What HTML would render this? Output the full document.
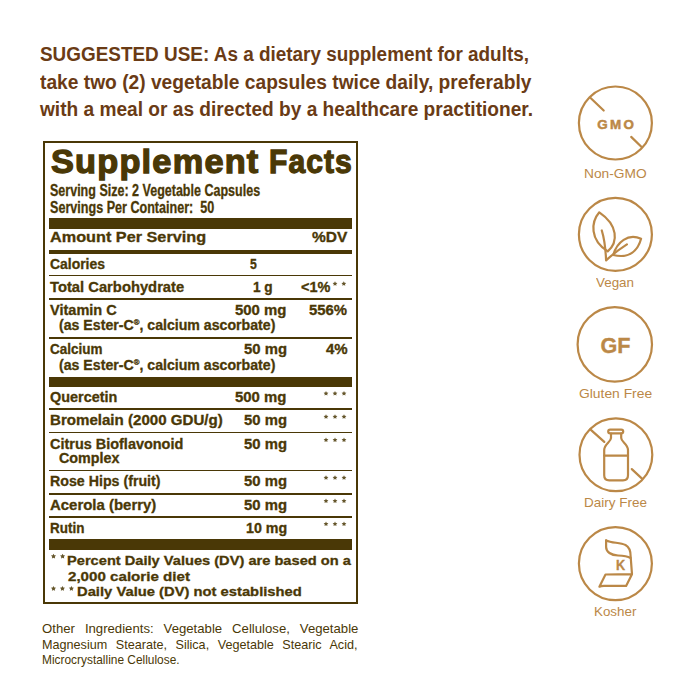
<!DOCTYPE html>
<html><head><meta charset="utf-8"><style>
html,body{margin:0;padding:0;background:#fff;width:700px;height:700px;overflow:hidden;}
body{position:relative;font-family:"Liberation Sans",sans-serif;}
.t{position:absolute;white-space:nowrap;line-height:1;transform-origin:0 0;}
.t sup{font-size:0.55em;vertical-align:0;position:relative;top:-0.62em;}
.r{position:absolute;}
.m{display:inline-block;width:0;height:0;}
.st{position:absolute;line-height:1;font-family:"Liberation Sans",sans-serif;font-weight:700;}
svg{position:absolute;left:0;top:0;}
</style></head><body>
<div class="t" id="t0" style="left:40.00px;top:45.02px;font-size:19.5px;font-weight:700;color:#6a3b15;transform:scaleX(0.9698);word-spacing:0.00px;letter-spacing:0px;-webkit-text-stroke:0px #6a3b15">SUGGESTED USE: As a dietary supplement for adults,<span class="m"></span></div><div class="t" id="t1" style="left:40.00px;top:73.01px;font-size:19.5px;font-weight:700;color:#6a3b15;transform:scaleX(0.9843);word-spacing:0.00px;letter-spacing:0px;-webkit-text-stroke:0px #6a3b15">take two (2) vegetable capsules twice daily, preferably<span class="m"></span></div><div class="t" id="t2" style="left:40.00px;top:100.01px;font-size:19.5px;font-weight:700;color:#6a3b15;transform:scaleX(0.9804);word-spacing:0.00px;letter-spacing:0px;-webkit-text-stroke:0px #6a3b15">with a meal or as directed by a healthcare practitioner.<span class="m"></span></div><div class="t" id="t3" style="left:51.00px;top:144.01px;font-size:34px;font-weight:700;color:#4a3806;transform:scaleX(1.0093);word-spacing:0.00px;letter-spacing:1.2px;-webkit-text-stroke:1.3px #4a3806">Supplement<span class="m"></span></div><div class="t" id="t4" style="left:268.60px;top:144.01px;font-size:34px;font-weight:700;color:#4a3806;transform:scaleX(0.8848);word-spacing:0.00px;letter-spacing:1.2px;-webkit-text-stroke:1.3px #4a3806">Facts<span class="m"></span></div><div class="t" id="t5" style="left:49.70px;top:183.01px;font-size:16px;font-weight:700;color:#4a3806;transform:scaleX(0.7823);word-spacing:0.00px;letter-spacing:0px;-webkit-text-stroke:0.3px #4a3806">Serving Size: 2 Vegetable Capsules<span class="m"></span></div><div class="t" id="t6" style="left:49.70px;top:200.01px;font-size:16px;font-weight:700;color:#4a3806;transform:scaleX(0.7862);word-spacing:0.00px;letter-spacing:0px;-webkit-text-stroke:0.3px #4a3806">Servings Per Container:&nbsp; 50<span class="m"></span></div><div class="t" id="t7" style="left:49.60px;top:231.02px;font-size:13.8px;font-weight:700;color:#4a3806;transform:scaleX(1.1769);word-spacing:0.00px;letter-spacing:0px;-webkit-text-stroke:0.3px #4a3806">Amount Per Serving<span class="m"></span></div><div class="t" id="t8" style="left:312.10px;top:231.02px;font-size:13.8px;font-weight:700;color:#4a3806;transform:scaleX(1.1229);word-spacing:0.00px;letter-spacing:0px;-webkit-text-stroke:0.3px #4a3806">%DV<span class="m"></span></div><div class="t" id="t9" style="left:49.70px;top:258.02px;font-size:13.8px;font-weight:700;color:#4a3806;transform:scaleX(1.0100);word-spacing:0.00px;letter-spacing:0px;-webkit-text-stroke:0.3px #4a3806">Calories<span class="m"></span></div><div class="t" id="t10" style="left:250.30px;top:258.02px;font-size:13.8px;font-weight:700;color:#4a3806;transform:scaleX(0.8846);word-spacing:0.00px;letter-spacing:0px;-webkit-text-stroke:0.3px #4a3806">5<span class="m"></span></div><div class="t" id="t11" style="left:49.70px;top:281.02px;font-size:13.8px;font-weight:700;color:#4a3806;transform:scaleX(1.0696);word-spacing:0.00px;letter-spacing:0px;-webkit-text-stroke:0.3px #4a3806">Total Carbohydrate<span class="m"></span></div><div class="t" id="t12" style="left:252.60px;top:281.02px;font-size:13.8px;font-weight:700;color:#4a3806;transform:scaleX(0.9881);word-spacing:0.00px;letter-spacing:0px;-webkit-text-stroke:0.3px #4a3806">1 g<span class="m"></span></div><div class="t" id="t13" style="left:300.70px;top:281.02px;font-size:13.8px;font-weight:700;color:#4a3806;transform:scaleX(1.0464);word-spacing:0.00px;letter-spacing:0px;-webkit-text-stroke:0.3px #4a3806">&lt;1%<span class="m"></span></div><div class="t" id="t14" style="left:49.70px;top:304.02px;font-size:13.8px;font-weight:700;color:#4a3806;transform:scaleX(1.0538);word-spacing:0.00px;letter-spacing:0px;-webkit-text-stroke:0.3px #4a3806">Vitamin C<span class="m"></span></div><div class="t" id="t15" style="left:235.40px;top:304.02px;font-size:13.8px;font-weight:700;color:#4a3806;transform:scaleX(1.0828);word-spacing:0.00px;letter-spacing:0px;-webkit-text-stroke:0.3px #4a3806">500 mg<span class="m"></span></div><div class="t" id="t16" style="left:309.30px;top:304.02px;font-size:13.8px;font-weight:700;color:#4a3806;transform:scaleX(1.0794);word-spacing:0.00px;letter-spacing:0px;-webkit-text-stroke:0.3px #4a3806">556%<span class="m"></span></div><div class="t" id="t17" style="left:58.60px;top:319.02px;font-size:13.8px;font-weight:700;color:#4a3806;transform:scaleX(1.0250);word-spacing:0.00px;letter-spacing:0px;-webkit-text-stroke:0.3px #4a3806">(as Ester-C<sup>®</sup>, calcium ascorbate)<span class="m"></span></div><div class="t" id="t18" style="left:49.70px;top:343.02px;font-size:13.8px;font-weight:700;color:#4a3806;transform:scaleX(0.9763);word-spacing:0.00px;letter-spacing:0px;-webkit-text-stroke:0.3px #4a3806">Calcium<span class="m"></span></div><div class="t" id="t19" style="left:243.90px;top:343.02px;font-size:13.8px;font-weight:700;color:#4a3806;transform:scaleX(1.0784);word-spacing:0.00px;letter-spacing:0px;-webkit-text-stroke:0.3px #4a3806">50 mg<span class="m"></span></div><div class="t" id="t20" style="left:326.20px;top:343.02px;font-size:13.8px;font-weight:700;color:#4a3806;transform:scaleX(1.0875);word-spacing:0.00px;letter-spacing:0px;-webkit-text-stroke:0.3px #4a3806">4%<span class="m"></span></div><div class="t" id="t21" style="left:58.60px;top:359.02px;font-size:13.8px;font-weight:700;color:#4a3806;transform:scaleX(1.0250);word-spacing:0.00px;letter-spacing:0px;-webkit-text-stroke:0.3px #4a3806">(as Ester-C<sup>®</sup>, calcium ascorbate)<span class="m"></span></div><div class="t" id="t22" style="left:49.70px;top:391.02px;font-size:13.8px;font-weight:700;color:#4a3806;transform:scaleX(1.0449);word-spacing:0.00px;letter-spacing:0px;-webkit-text-stroke:0.3px #4a3806">Quercetin<span class="m"></span></div><div class="t" id="t23" style="left:235.40px;top:391.02px;font-size:13.8px;font-weight:700;color:#4a3806;transform:scaleX(1.0828);word-spacing:0.00px;letter-spacing:0px;-webkit-text-stroke:0.3px #4a3806">500 mg<span class="m"></span></div><div class="t" id="t24" style="left:49.70px;top:414.02px;font-size:13.8px;font-weight:700;color:#4a3806;transform:scaleX(1.0935);word-spacing:0.00px;letter-spacing:0px;-webkit-text-stroke:0.3px #4a3806">Bromelain (2000 GDU/g)<span class="m"></span></div><div class="t" id="t25" style="left:243.90px;top:414.02px;font-size:13.8px;font-weight:700;color:#4a3806;transform:scaleX(1.0784);word-spacing:0.00px;letter-spacing:0px;-webkit-text-stroke:0.3px #4a3806">50 mg<span class="m"></span></div><div class="t" id="t26" style="left:49.70px;top:438.02px;font-size:13.8px;font-weight:700;color:#4a3806;transform:scaleX(1.0475);word-spacing:0.00px;letter-spacing:0px;-webkit-text-stroke:0.3px #4a3806">Citrus Bioflavonoid<span class="m"></span></div><div class="t" id="t27" style="left:243.90px;top:438.02px;font-size:13.8px;font-weight:700;color:#4a3806;transform:scaleX(1.0784);word-spacing:0.00px;letter-spacing:0px;-webkit-text-stroke:0.3px #4a3806">50 mg<span class="m"></span></div><div class="t" id="t28" style="left:59.10px;top:452.02px;font-size:13.8px;font-weight:700;color:#4a3806;transform:scaleX(1.0381);word-spacing:0.00px;letter-spacing:0px;-webkit-text-stroke:0.3px #4a3806">Complex<span class="m"></span></div><div class="t" id="t29" style="left:49.70px;top:475.02px;font-size:13.8px;font-weight:700;color:#4a3806;transform:scaleX(1.0297);word-spacing:0.00px;letter-spacing:0px;-webkit-text-stroke:0.3px #4a3806">Rose Hips (fruit)<span class="m"></span></div><div class="t" id="t30" style="left:243.90px;top:475.02px;font-size:13.8px;font-weight:700;color:#4a3806;transform:scaleX(1.0784);word-spacing:0.00px;letter-spacing:0px;-webkit-text-stroke:0.3px #4a3806">50 mg<span class="m"></span></div><div class="t" id="t31" style="left:49.70px;top:499.02px;font-size:13.8px;font-weight:700;color:#4a3806;transform:scaleX(1.0830);word-spacing:0.00px;letter-spacing:0px;-webkit-text-stroke:0.3px #4a3806">Acerola (berry)<span class="m"></span></div><div class="t" id="t32" style="left:243.90px;top:499.02px;font-size:13.8px;font-weight:700;color:#4a3806;transform:scaleX(1.0784);word-spacing:0.00px;letter-spacing:0px;-webkit-text-stroke:0.3px #4a3806">50 mg<span class="m"></span></div><div class="t" id="t33" style="left:49.70px;top:522.02px;font-size:13.8px;font-weight:700;color:#4a3806;transform:scaleX(0.9759);word-spacing:0.00px;letter-spacing:0px;-webkit-text-stroke:0.3px #4a3806">Rutin<span class="m"></span></div><div class="t" id="t34" style="left:245.70px;top:522.02px;font-size:13.8px;font-weight:700;color:#4a3806;transform:scaleX(1.0332);word-spacing:0.00px;letter-spacing:0px;-webkit-text-stroke:0.3px #4a3806">10 mg<span class="m"></span></div><div class="t" id="t35" style="left:67.00px;top:554.02px;font-size:13.2px;font-weight:700;color:#4a3806;transform:scaleX(1.1098);word-spacing:0.00px;letter-spacing:0px;-webkit-text-stroke:0.3px #4a3806">Percent Daily Values (DV) are based on a<span class="m"></span></div><div class="t" id="t36" style="left:67.70px;top:570.02px;font-size:13.2px;font-weight:700;color:#4a3806;transform:scaleX(1.1477);word-spacing:0.00px;letter-spacing:0px;-webkit-text-stroke:0.3px #4a3806">2,000 calorie diet<span class="m"></span></div><div class="t" id="t37" style="left:76.90px;top:585.02px;font-size:13.2px;font-weight:700;color:#4a3806;transform:scaleX(1.1195);word-spacing:0.00px;letter-spacing:0px;-webkit-text-stroke:0.3px #4a3806">Daily Value (DV) not established<span class="m"></span></div><div class="t" id="t38" style="left:41.90px;top:653.02px;font-size:13.2px;font-weight:400;color:#4a3806;transform:scaleX(0.9027);word-spacing:0.00px;letter-spacing:0px;-webkit-text-stroke:0px #4a3806">Microcrystalline Cellulose.<span class="m"></span></div><div class="t" id="t39" style="left:41.90px;top:622.02px;font-size:13.2px;font-weight:400;color:#4a3806;transform:scaleX(0.9974);word-spacing:6.35px;letter-spacing:0px;-webkit-text-stroke:0px #4a3806">Other Ingredients: Vegetable Cellulose, Vegetable<span class="m"></span></div><div class="t" id="t40" style="left:41.90px;top:638.02px;font-size:13.2px;font-weight:400;color:#4a3806;transform:scaleX(0.9568);word-spacing:5.25px;letter-spacing:0px;-webkit-text-stroke:0px #4a3806">Magnesium Stearate, Silica, Vegetable Stearic Acid,<span class="m"></span></div><div class="t" id="t41" style="left:584.00px;top:167.02px;font-size:13.6px;font-weight:400;color:#bb8847;transform:scaleX(1.0107);word-spacing:0.00px;letter-spacing:0px;-webkit-text-stroke:0px #bb8847">Non-GMO<span class="m"></span></div><div class="t" id="t42" style="left:596.00px;top:276.02px;font-size:13.6px;font-weight:400;color:#bb8847;transform:scaleX(0.9854);word-spacing:0.00px;letter-spacing:0px;-webkit-text-stroke:0px #bb8847">Vegan<span class="m"></span></div><div class="t" id="t43" style="left:578.90px;top:387.02px;font-size:13.6px;font-weight:400;color:#bb8847;transform:scaleX(1.0184);word-spacing:0.00px;letter-spacing:0px;-webkit-text-stroke:0px #bb8847">Gluten Free<span class="m"></span></div><div class="t" id="t44" style="left:584.00px;top:496.02px;font-size:13.6px;font-weight:400;color:#bb8847;transform:scaleX(0.9913);word-spacing:0.00px;letter-spacing:0px;-webkit-text-stroke:0px #bb8847">Dairy Free<span class="m"></span></div><div class="t" id="t45" style="left:593.90px;top:605.02px;font-size:13.6px;font-weight:400;color:#bb8847;transform:scaleX(0.9843);word-spacing:0.00px;letter-spacing:0px;-webkit-text-stroke:0px #bb8847">Kosher<span class="m"></span></div>
<div class="r" style="left:43px;top:141px;width:315px;height:2px;background:#4a3806"></div><div class="r" style="left:43px;top:602px;width:315px;height:2px;background:#4a3806"></div><div class="r" style="left:43px;top:141px;width:2px;height:463px;background:#4a3806"></div><div class="r" style="left:356px;top:141px;width:2px;height:463px;background:#4a3806"></div><div class="r" style="left:49px;top:217.5px;width:303px;height:11.5px;background:#4a3806"></div><div class="r" style="left:49px;top:250px;width:303px;height:4.400000000000006px;background:#4a3806"></div><div class="r" style="left:49px;top:274.7px;width:303px;height:1.6999999999999886px;background:#4a3806"></div><div class="r" style="left:49px;top:297.8px;width:303px;height:1.8000000000000114px;background:#4a3806"></div><div class="r" style="left:49px;top:337px;width:303px;height:1.8000000000000114px;background:#4a3806"></div><div class="r" style="left:49px;top:376.5px;width:303px;height:10.5px;background:#4a3806"></div><div class="r" style="left:49px;top:408.2px;width:303px;height:1.8000000000000114px;background:#4a3806"></div><div class="r" style="left:49px;top:431.6px;width:303px;height:1.7999999999999545px;background:#4a3806"></div><div class="r" style="left:49px;top:469.6px;width:303px;height:1.7999999999999545px;background:#4a3806"></div><div class="r" style="left:49px;top:492.8px;width:303px;height:1.8000000000000114px;background:#4a3806"></div><div class="r" style="left:49px;top:515.8px;width:303px;height:1.8000000000000682px;background:#4a3806"></div><div class="r" style="left:49px;top:539.4px;width:303px;height:10.899999999999977px;background:#4a3806"></div>
<svg width="700" height="700"><path d="M335.00,281.30 L335.73,282.79 L337.38,283.03 L336.19,284.19 L336.47,285.82 L335.00,285.05 L333.53,285.82 L333.81,284.19 L332.62,283.03 L334.27,282.79ZM343.80,281.30 L344.53,282.79 L346.18,283.03 L344.99,284.19 L345.27,285.82 L343.80,285.05 L342.33,285.82 L342.61,284.19 L341.42,283.03 L343.07,282.79Z" fill="#4a3806" fill-opacity="0.85"/><path d="M326.00,391.00 L326.73,392.49 L328.38,392.73 L327.19,393.89 L327.47,395.52 L326.00,394.75 L324.53,395.52 L324.81,393.89 L323.62,392.73 L325.27,392.49ZM335.00,391.00 L335.73,392.49 L337.38,392.73 L336.19,393.89 L336.47,395.52 L335.00,394.75 L333.53,395.52 L333.81,393.89 L332.62,392.73 L334.27,392.49ZM344.00,391.00 L344.73,392.49 L346.38,392.73 L345.19,393.89 L345.47,395.52 L344.00,394.75 L342.53,395.52 L342.81,393.89 L341.62,392.73 L343.27,392.49Z" fill="#4a3806" fill-opacity="0.85"/><path d="M326.00,414.30 L326.73,415.79 L328.38,416.03 L327.19,417.19 L327.47,418.82 L326.00,418.05 L324.53,418.82 L324.81,417.19 L323.62,416.03 L325.27,415.79ZM335.00,414.30 L335.73,415.79 L337.38,416.03 L336.19,417.19 L336.47,418.82 L335.00,418.05 L333.53,418.82 L333.81,417.19 L332.62,416.03 L334.27,415.79ZM344.00,414.30 L344.73,415.79 L346.38,416.03 L345.19,417.19 L345.47,418.82 L344.00,418.05 L342.53,418.82 L342.81,417.19 L341.62,416.03 L343.27,415.79Z" fill="#4a3806" fill-opacity="0.85"/><path d="M326.00,437.50 L326.73,438.99 L328.38,439.23 L327.19,440.39 L327.47,442.02 L326.00,441.25 L324.53,442.02 L324.81,440.39 L323.62,439.23 L325.27,438.99ZM335.00,437.50 L335.73,438.99 L337.38,439.23 L336.19,440.39 L336.47,442.02 L335.00,441.25 L333.53,442.02 L333.81,440.39 L332.62,439.23 L334.27,438.99ZM344.00,437.50 L344.73,438.99 L346.38,439.23 L345.19,440.39 L345.47,442.02 L344.00,441.25 L342.53,442.02 L342.81,440.39 L341.62,439.23 L343.27,438.99Z" fill="#4a3806" fill-opacity="0.85"/><path d="M326.00,475.30 L326.73,476.79 L328.38,477.03 L327.19,478.19 L327.47,479.82 L326.00,479.05 L324.53,479.82 L324.81,478.19 L323.62,477.03 L325.27,476.79ZM335.00,475.30 L335.73,476.79 L337.38,477.03 L336.19,478.19 L336.47,479.82 L335.00,479.05 L333.53,479.82 L333.81,478.19 L332.62,477.03 L334.27,476.79ZM344.00,475.30 L344.73,476.79 L346.38,477.03 L345.19,478.19 L345.47,479.82 L344.00,479.05 L342.53,479.82 L342.81,478.19 L341.62,477.03 L343.27,476.79Z" fill="#4a3806" fill-opacity="0.85"/><path d="M326.00,498.50 L326.73,499.99 L328.38,500.23 L327.19,501.39 L327.47,503.02 L326.00,502.25 L324.53,503.02 L324.81,501.39 L323.62,500.23 L325.27,499.99ZM335.00,498.50 L335.73,499.99 L337.38,500.23 L336.19,501.39 L336.47,503.02 L335.00,502.25 L333.53,503.02 L333.81,501.39 L332.62,500.23 L334.27,499.99ZM344.00,498.50 L344.73,499.99 L346.38,500.23 L345.19,501.39 L345.47,503.02 L344.00,502.25 L342.53,503.02 L342.81,501.39 L341.62,500.23 L343.27,499.99Z" fill="#4a3806" fill-opacity="0.85"/><path d="M326.00,521.50 L326.73,522.99 L328.38,523.23 L327.19,524.39 L327.47,526.02 L326.00,525.25 L324.53,526.02 L324.81,524.39 L323.62,523.23 L325.27,522.99ZM335.00,521.50 L335.73,522.99 L337.38,523.23 L336.19,524.39 L336.47,526.02 L335.00,525.25 L333.53,526.02 L333.81,524.39 L332.62,523.23 L334.27,522.99ZM344.00,521.50 L344.73,522.99 L346.38,523.23 L345.19,524.39 L345.47,526.02 L344.00,525.25 L342.53,526.02 L342.81,524.39 L341.62,523.23 L343.27,522.99Z" fill="#4a3806" fill-opacity="0.85"/><path d="M53.50,553.70 L54.29,555.31 L56.07,555.57 L54.78,556.82 L55.09,558.58 L53.50,557.75 L51.91,558.58 L52.22,556.82 L50.93,555.57 L52.71,555.31ZM62.60,553.70 L63.39,555.31 L65.17,555.57 L63.88,556.82 L64.19,558.58 L62.60,557.75 L61.01,558.58 L61.32,556.82 L60.03,555.57 L61.81,555.31Z" fill="#4a3806" fill-opacity="0.85"/><path d="M53.50,585.90 L54.29,587.51 L56.07,587.77 L54.78,589.02 L55.09,590.78 L53.50,589.95 L51.91,590.78 L52.22,589.02 L50.93,587.77 L52.71,587.51ZM62.45,585.90 L63.24,587.51 L65.02,587.77 L63.73,589.02 L64.04,590.78 L62.45,589.95 L60.86,590.78 L61.17,589.02 L59.88,587.77 L61.66,587.51ZM71.40,585.90 L72.19,587.51 L73.97,587.77 L72.68,589.02 L72.99,590.78 L71.40,589.95 L69.81,590.78 L70.12,589.02 L68.83,587.77 L70.61,587.51Z" fill="#4a3806" fill-opacity="0.85"/></svg>
<svg width="700" height="700" viewBox="0 0 700 700">
<g fill="none" stroke="#bb8847" stroke-width="2.2" stroke-linecap="round" stroke-linejoin="round">
<!-- GMO -->
<circle cx="615.4" cy="123" r="36.5"/>
<path d="M590.6,98 L603.7,110.5 M631.2,136.9 L641.6,147"/>
<!-- Vegan -->
<circle cx="615.4" cy="234.4" r="36.5"/>
<path d="M599.3,212.3 C591,222 589.5,240 607.7,251.4 C618.5,242 618,225 599.3,212.3 Z"/>
<path d="M601.8,230.5 Q605.3,242 606.1,260.4 Q615,252 626.9,244.3"/>
<path d="M613.2,255 C617,242 628,233 641.1,238.8 C638,250 630,259 613.2,255 Z"/>
<!-- GF -->
<circle cx="614.8" cy="344.4" r="37.2"/>
<!-- Dairy -->
<circle cx="615.9" cy="454.7" r="36.4"/>
<path d="M590.6,429.6 L604.3,441.9 M631.8,469.1 L642,478.6"/>
<rect x="608.2" y="429.6" width="15" height="3.8" rx="1.9"/>
<path d="M611,433.6 L611,438 C611,442 604.2,444 604.2,450 L604.2,475.3 Q604.2,480.4 609.2,480.4 L623,480.4 Q628,480.4 628,475.3 L628,450 C628,444 621.2,442 621.2,438 L621.2,433.6"/>
<path d="M604.2,455.6 L628,455.6"/>
<!-- Kosher -->
<circle cx="615.4" cy="563.6" r="36.5"/>
<path d="M606.1,540.4 C612,543 620,542.5 625.5,545 C630,547.5 630.6,552 630.6,556 L632,574.2 L605.5,574.5 L599.4,586.7 C600.5,586 602,585.9 604,585.9 L626.1,585.9 L632,574.2"/>
<path d="M606.1,540.4 L606.1,547 C606.1,552 611,555.2 618,555.5 C623,555.7 627,556 630.6,558"/>
</g>
<g fill="#bb8847" stroke="#bb8847" stroke-width="0.35" font-family="Liberation Sans, sans-serif" font-weight="700">
<text x="597.2" y="129.4" font-size="13.4" textLength="36.6" lengthAdjust="spacing" stroke-width="0.5">GMO</text>
<text x="600.5" y="353.2" font-size="22.4" textLength="30" lengthAdjust="spacingAndGlyphs">GF</text>
<text x="616" y="569.9" font-size="15" textLength="9.2" lengthAdjust="spacingAndGlyphs">K</text>
</g>
</svg>

</body></html>
